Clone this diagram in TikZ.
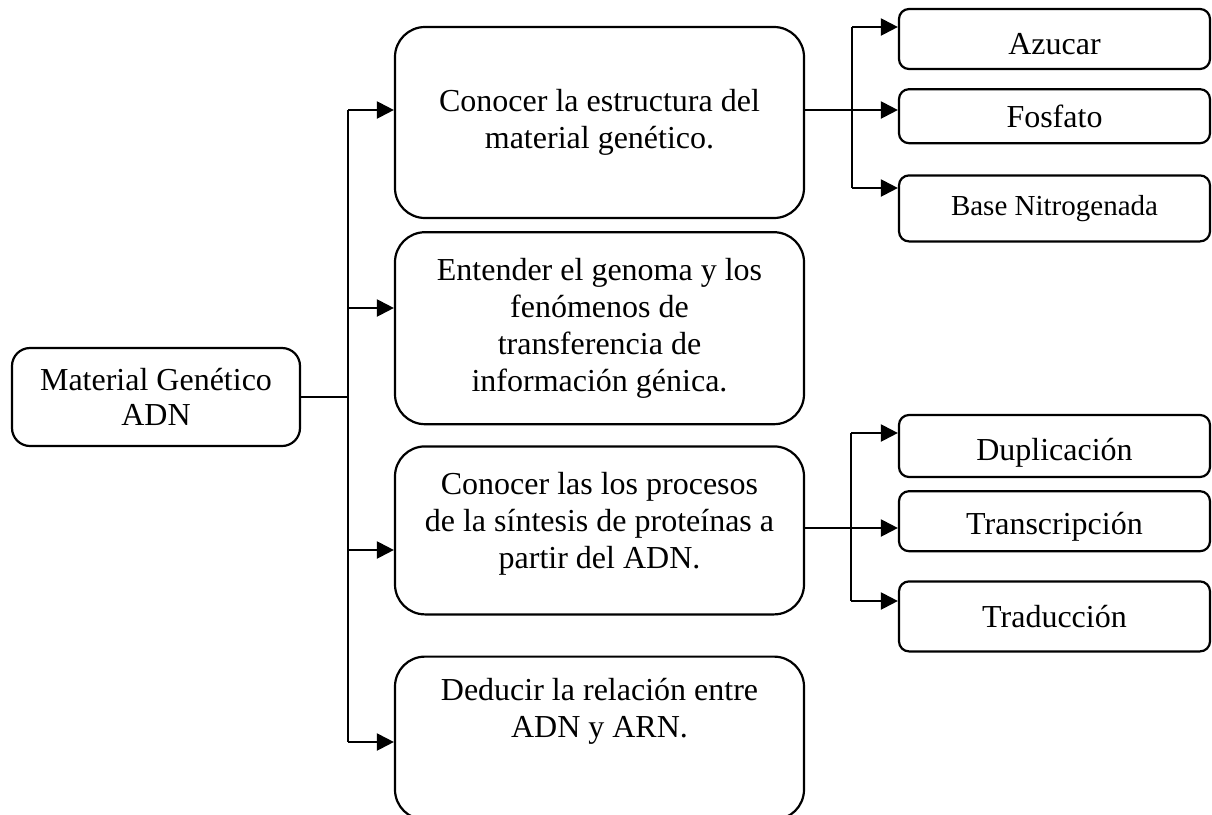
\documentclass[tikz,border=0pt]{standalone}
\usepackage{fontspec}
\setmainfont{Liberation Serif}
\usepackage{pgf,tikz}
\usetikzlibrary{positioning, arrows.meta}

\begin{document}
\begin{tikzpicture}[x=0.5pt, y=-0.5pt, line width=1.1pt,
	leftbox/.style={draw, rounded corners=9pt, align=center, minimum width=144pt, minimum height=49pt, font=\fontsize{16}{17.5}\selectfont},
	midbox/.style={draw, rounded corners=15pt, align=center, minimum width=204.5pt, font=\fontsize{16}{18.5}\selectfont},
	midtext/.style={align=center, inner sep=0pt, font=\fontsize{16}{18.5}\selectfont},
	rbox/.style={draw, rounded corners=5pt, align=center, minimum width=155.5pt, font=\fontsize{16}{18}\selectfont},
	arr/.style={-{Triangle[length=8.5pt, width=8.5pt]}}]
	\useasboundingbox (0,0) rectangle (1212,815);
	\node (mat)[leftbox] at (156,397) {Material Genético\\ADN};
	\node (estr)[midbox, minimum height=95.5pt] at (599.5,122.5) {Conocer la estructura del\\material genético.};
	\node (geno)[midbox, minimum height=96pt, below=6pt of estr] {Entender el genoma y los\\fenómenos de\\transferencia de\\información génica.};
	\node (sint)[midbox, minimum height=84pt, below=10pt of geno] {};
	\node (rel)[midbox, minimum height=81.5pt, below=20pt of sint] {};
	\node (sinttxt)[midtext, anchor=north] at ([yshift=-13pt]sint.north) {Conocer las los procesos\\de la síntesis de proteínas a\\partir del ADN.};
	\node (reltxt)[midtext, anchor=north] at ([yshift=-11pt]rel.north) {Deducir la relación entre\\ADN y ARN.};
	\node (azu)[rbox, minimum height=30pt, text height=15.5pt] at (1054.5,39) {Azucar};
	\node (fos)[rbox, minimum height=27pt, below=9pt of azu] {Fosfato};
	\node (base)[rbox, minimum height=33pt, below=15pt of fos, font=\fontsize{14.5}{16}\selectfont] {Base Nitrogenada};
	\node (dup)[rbox, minimum height=31pt, text height=17.5pt] at (1054.5,446) {Duplicación};
	\node (trans)[rbox, minimum height=30pt, below=6pt of dup, text height=16.5pt] {Transcripción};
	\node (trad)[rbox, minimum height=35pt, below=14pt of trans] {Traducción};
	\coordinate (j1) at (348,110);
	\coordinate (j2) at (348,308);
	\coordinate (j3) at (348,550);
	\coordinate (j4) at (348,742);
	\coordinate (k1) at (852,27);
	\coordinate (k3) at (852,188);
	\coordinate (m1) at (851,433);
	\coordinate (m2) at (851,528);
	\coordinate (m3) at (851,601);
	\draw (mat.east) -- (mat.east -| j1);
	\draw (j1) -- (j4);
	\draw[arr] (j1) -- (j1 -| estr.west);
	\draw[arr] (j2) -- (j2 -| geno.west);
	\draw[arr] (j3) -- (j3 -| sint.west);
	\draw[arr] (j4) -- (j4 -| rel.west);
	\draw[arr] (estr.east |- j1) -- (j1 -| fos.west);
	\draw (k1) -- (k3);
	\draw[arr] (k1) -- (k1 -| azu.west);
	\draw[arr] (k3) -- (k3 -| base.west);
	\draw[arr] (sint.east |- m2) -- (m2 -| trans.west);
	\draw (m1) -- (m3);
	\draw[arr] (m1) -- (m1 -| dup.west);
	\draw[arr] (m3) -- (m3 -| trad.west);
\end{tikzpicture}
\end{document}
